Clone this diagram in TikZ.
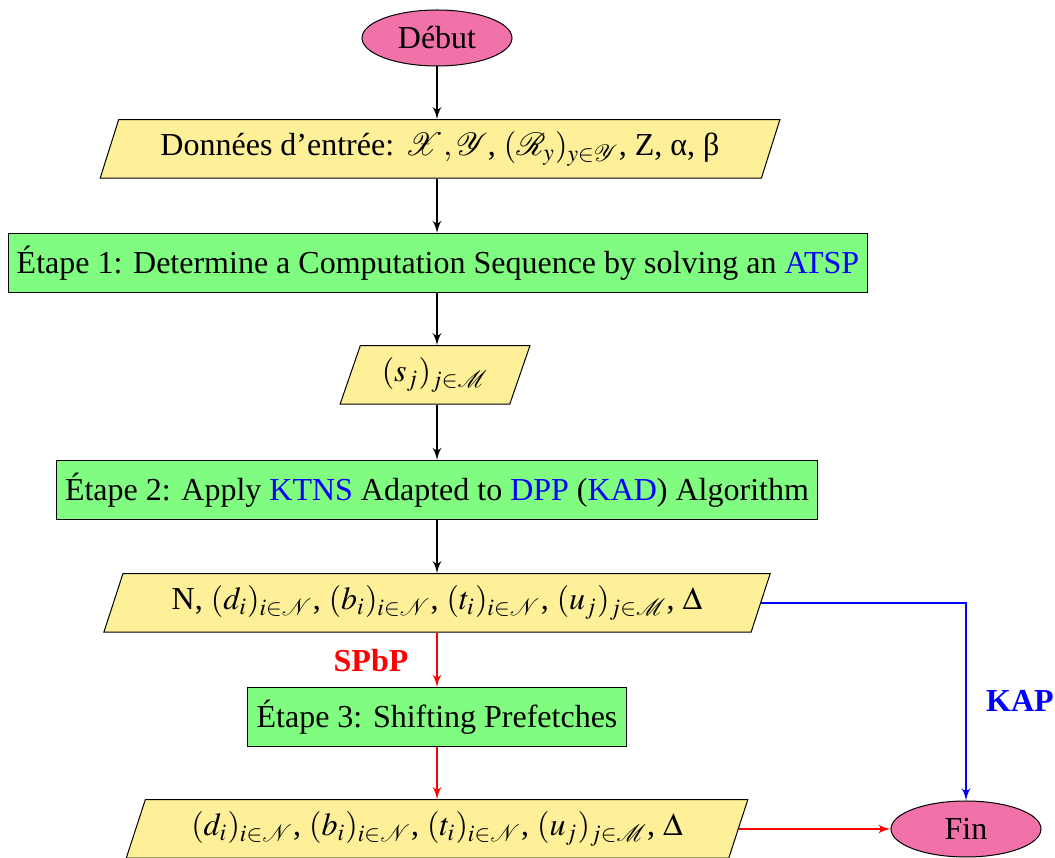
\documentclass[tikz,border=0pt]{standalone}
\usepackage{mathptmx}
\usepackage[no-math]{fontspec}
\setmainfont{Liberation Serif}
\usepackage{tikz}
\usetikzlibrary{positioning}
\usetikzlibrary{shapes.geometric,arrows}
\definecolor{startpink}{RGB}{240,114,168}
\definecolor{datayellow}{RGB}{253,240,152}
\definecolor{stepgreen}{RGB}{128,252,128}
\tikzstyle{flow} = [draw, line width=0.7pt, -latex']
\tikzstyle{terminal} = [ellipse, draw, fill=startpink, minimum width=60pt, minimum height=22.4pt]
\tikzstyle{datain} = [trapezium, trapezium left angle=72, trapezium right angle=108, trapezium stretches=true, draw, fill=datayellow, minimum height=23.4pt]
\tikzstyle{process} = [rectangle, draw, fill=stepgreen, minimum height=23.6pt]

\begin{document}
\begin{tikzpicture}[x=0.4pt, y=-0.4pt, font=\fontsize{12.8}{15}\selectfont]
	\useasboundingbox (0,0) rectangle (1055,858);
	\node[terminal] (debut) at (437,38) {Début};
	\node[datain, minimum width=272pt] (entree) at (440,149) {Données d’entrée: $\mathcal{X},\mathcal{Y}$, $(\mathcal{R}_y)_{y\in\mathcal{Y}}$, Z, α, β};
	\node[process, minimum width=342.4pt] (etape1) at (438,263) {Étape 1: Determine a Computation Sequence by solving an \textcolor{blue}{ATSP}};
	\node[datain, minimum width=76pt] (sequence) at (435,375) {$(s_j)_{j\in\mathcal{M}}$};
	\node[process, minimum width=304.4pt] (etape2) at (437,490) {Étape 2: Apply \textcolor{blue}{KTNS} Adapted to \textcolor{blue}{DPP} (\textcolor{blue}{KAD}) Algorithm};
	\node[datain, minimum width=266.8pt] (resultat) at (437,603) {N, $(d_i)_{i\in\mathcal{N}}$, $(b_i)_{i\in\mathcal{N}}$, $(t_i)_{i\in\mathcal{N}}$, $(u_j)_{j\in\mathcal{M}}$, $\Delta$};
	\node[process, minimum width=151.2pt] (etape3) at (437,717) {Étape 3: Shifting Prefetches};
	\node[datain, minimum width=249.2pt] (final) at (437,829) {$(d_i)_{i\in\mathcal{N}}$, $(b_i)_{i\in\mathcal{N}}$, $(t_i)_{i\in\mathcal{N}}$, $(u_j)_{j\in\mathcal{M}}$, $\Delta$};
	\node[terminal] (fin) at (966,829) {Fin};
	
	\node[text=red, font=\fontsize{12.8}{15}\selectfont\bfseries] (spbp) at (371,661) {SPbP};
	\node[text=blue, font=\fontsize{12.8}{15}\selectfont\bfseries] (kap) at (1020,701) {KAP};
	
	\path[flow] (debut.south) -- (debut.south |- entree.north);
	\path[flow] (debut.south |- entree.south) -- (debut.south |- etape1.north);
	\path[flow] (debut.south |- etape1.south) -- (debut.south |- sequence.north);
	\path[flow] (debut.south |- sequence.south) -- (debut.south |- etape2.north);
	\path[flow] (etape2) -- (resultat);
	\path[flow, red] (resultat) -- (etape3);
	\path[flow, red] (etape3) -- (final);
	\path[flow, red] (final) -- (fin);
	\path[flow, blue] (resultat.east) -| (fin.north);
\end{tikzpicture}
\end{document}
